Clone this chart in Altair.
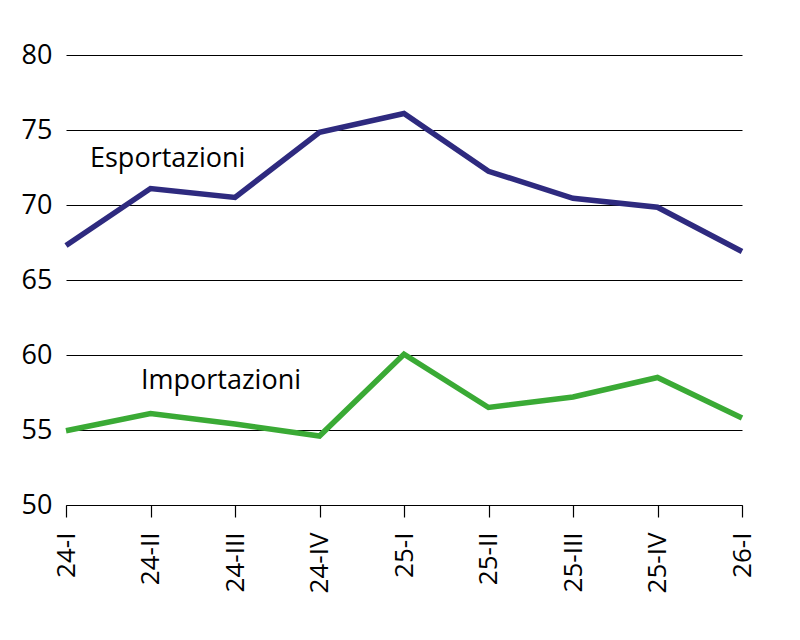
import altair as alt
import pandas as pd

quarters = ["24-I", "24-II", "24-III", "24-IV", "25-I", "25-II", "25-III", "25-IV", "26-I"]
esportazioni = [67.3, 71.1, 70.5, 74.85, 76.1, 72.25, 70.45, 69.85, 66.9]
importazioni = [54.95, 56.1, 55.4, 54.6, 60.05, 56.5, 57.2, 58.5, 55.8]
series_names = ["Esportazioni", "Importazioni"]
series_colors = ["#2e2a7f", "#3aaa35"]
label_x = ["24-I", "24-I"]
label_y = [73.1, 58.25]
label_dx = [24, 75]
y_ticks = [50, 55, 60, 65, 70, 75, 80]

rows = []
for q, v in zip(quarters, esportazioni):
    rows.append({"q": q, "v": v, "s": series_names[0]})
for q, v in zip(quarters, importazioni):
    rows.append({"q": q, "v": v, "s": series_names[1]})
df = pd.DataFrame(rows)

FONT = "Open Sans"
FS = 27

x_enc = alt.X("q:N", sort=quarters, scale=alt.Scale(type="point", padding=0),
              axis=alt.Axis(title=None, labelAngle=-90, labelAlign="right", labelBaseline="middle",
                            labelFontSize=26, labelFont=FONT, labelColor="black",
                            tickColor="black", tickSize=12, tickWidth=1.2,
                            domainColor="black", domainWidth=1.2, labelPadding=15, grid=False))
y_enc = alt.Y("v:Q", scale=alt.Scale(domain=[50, 80], nice=False, zero=False),
              axis=alt.Axis(title=None, values=y_ticks, labelFontSize=FS, labelFont=FONT,
                            labelColor="black", domain=False, ticks=False, labelPadding=14,
                            grid=True, gridColor="black", gridWidth=1))

lines = alt.Chart(df).mark_line(strokeWidth=5.5, strokeJoin="miter").encode(
    x=x_enc, y=y_enc,
    color=alt.Color("s:N", scale=alt.Scale(domain=series_names, range=series_colors), legend=None),
)

lab_df = pd.DataFrame({"q": label_x, "v": label_y, "t": series_names, "dx": label_dx})
labels = []
for i in range(len(series_names)):
    labels.append(
        alt.Chart(lab_df.iloc[[i]]).mark_text(align="left", baseline="middle", fontSize=FS,
                                              font=FONT, color="black", dx=label_dx[i]).encode(
            x=alt.X("q:N", sort=quarters), y=alt.Y("v:Q"), text="t:N")
    )

chart = alt.layer(lines, *labels).properties(
    width=676, height=450,
    autosize=alt.AutoSizeParams(type="none"),
    padding={"left": 58, "top": 47, "right": 50, "bottom": 120},
).configure(background="white", view=alt.ViewConfig(stroke=None))

chart.save("out.html", embed_options={"renderer": "svg", "actions": False})
